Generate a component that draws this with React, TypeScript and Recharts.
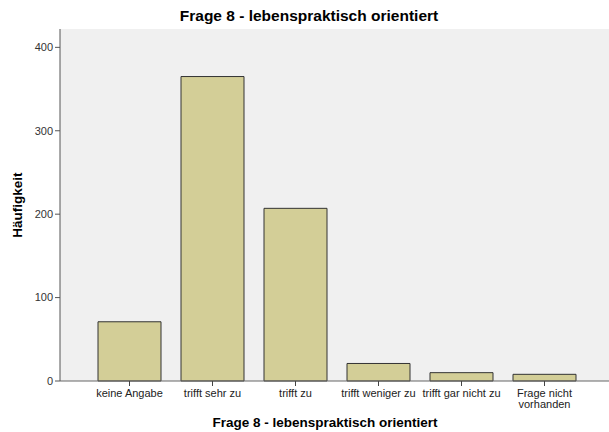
import { Bar, BarChart, CartesianGrid, XAxis, YAxis } from "recharts";

const categories = [
  "keine Angabe",
  "trifft sehr zu",
  "trifft zu",
  "trifft weniger zu",
  "trifft gar nicht zu",
  "Frage nicht vorhanden",
];
const counts = [71, 365, 207, 21, 10, 8];
const yTicks = [0, 100, 200, 300, 400];

const data = categories.map((name, i) => ({ name, count: counts[i] }));

const FONT = "'Liberation Sans', Arial, sans-serif";

// long labels get broken before their last word, like the original
function splitLabel(label: string): string[] {
  if (label.length <= 19) return [label];
  const cut = label.lastIndexOf(" ");
  return [label.slice(0, cut), label.slice(cut + 1)];
}

function CategoryTick(props: any) {
  const { x, y, payload } = props;
  const lines = splitLabel(String(payload.value));
  return (
    <text
      x={x}
      y={y + 9}
      textAnchor="middle"
      fontSize={11}
      fontFamily={FONT}
      fill="#222"
    >
      {lines.map((line, i) => (
        <tspan key={i} x={x} dy={i === 0 ? 0 : 11}>
          {line}
        </tspan>
      ))}
    </text>
  );
}

export default function App() {
  return (
    <div
      style={{
        position: "absolute",
        left: 0,
        top: 0,
        width: 609,
        height: 432,
        background: "#fff",
        fontFamily: FONT,
      }}
    >
      <div
        style={{
          position: "absolute",
          left: 0,
          width: 618,
          top: 7,
          textAlign: "center",
          fontSize: 15.5,
          fontWeight: "bold",
          color: "#000",
          lineHeight: "18px",
        }}
      >
        Frage 8 - lebenspraktisch orientiert
      </div>
      <div
        style={{
          position: "absolute",
          left: 18 - 50,
          top: 205 - 9,
          width: 100,
          height: 18,
          textAlign: "center",
          transform: "rotate(-90deg)",
          fontSize: 13.5,
          fontWeight: "bold",
          lineHeight: "18px",
        }}
      >
        Häufigkeit
      </div>
      <div
        style={{
          position: "absolute",
          left: 60,
          width: 530,
          top: 414,
          textAlign: "center",
          fontSize: 13.5,
          fontWeight: "bold",
          lineHeight: "18px",
        }}
      >
        Frage 8 - lebenspraktisch orientiert
      </div>
      <BarChart
        width={609}
        height={432}
        data={data}
        margin={{ top: 29, right: 0, left: 0, bottom: 11 }}
        style={{ position: "absolute", left: 0, top: 0 }}
      >
        <CartesianGrid fill="#f0f0f0" horizontal={false} vertical={false} />
        <XAxis
          dataKey="name"
          padding={{ left: 28, right: 23 }}
          height={40}
          interval={0}
          stroke="#666"
          tickSize={5}
          tickLine={{ stroke: "#444" }}
          tick={<CategoryTick />}
        />
        <XAxis
          xAxisId="top"
          orientation="top"
          dataKey="name"
          height={0}
          tick={false}
          tickLine={false}
          stroke="#8a8a8a"
        />
        <YAxis
          width={60}
          domain={[0, 422]}
          ticks={yTicks}
          interval={0}
          stroke="#555"
          tickSize={5}
          tick={{ fontSize: 11, fill: "#333", fontFamily: FONT }}
        />
        <Bar
          dataKey="count"
          fill="#d3ce97"
          stroke="#333"
          strokeWidth={1}
          barSize={63}
          isAnimationActive={false}
        />
      </BarChart>
    </div>
  );
}
